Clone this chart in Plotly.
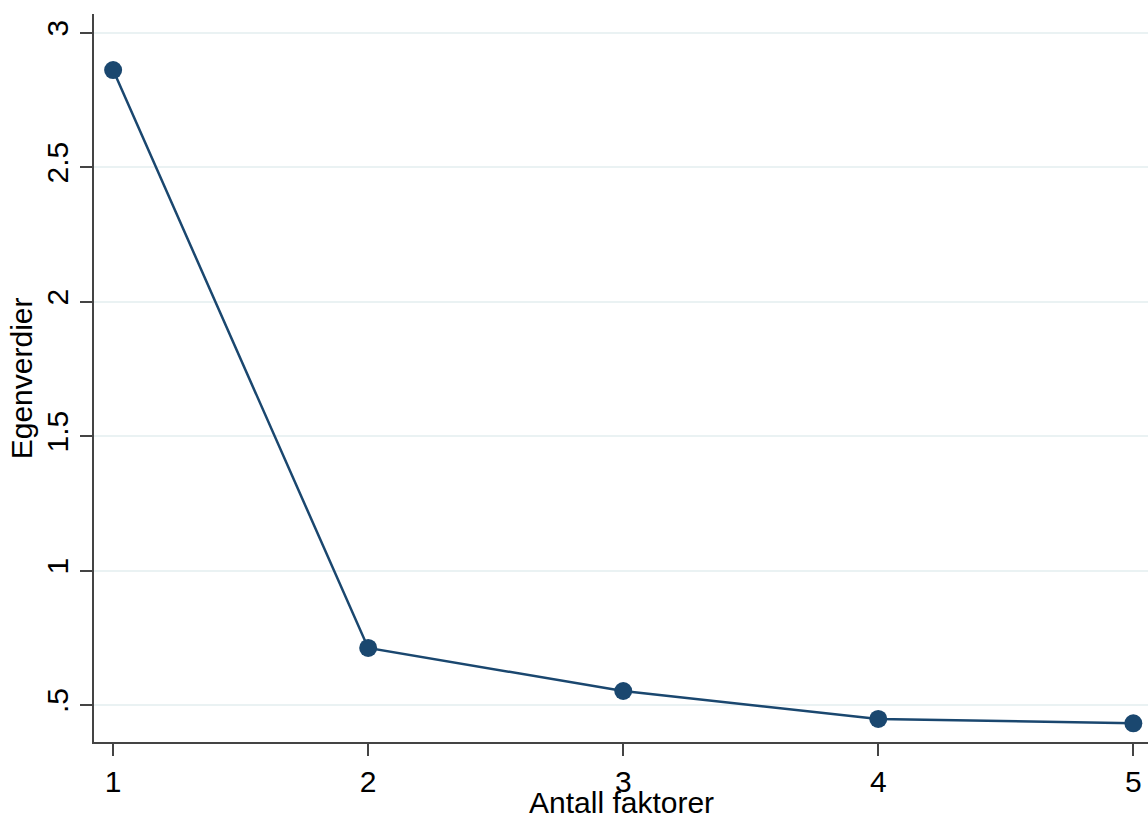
import plotly.graph_objects as go

factors = [1, 2, 3, 4, 5]
eigenvalues = [2.861, 0.712, 0.552, 0.448, 0.432]
x_ticks = [1, 2, 3, 4, 5]
y_ticks = [0.5, 1, 1.5, 2, 2.5, 3]
y_tick_labels = [".5", "1", "1.5", "2", "2.5", "3"]

navy = "#1a476f"
font_family = "Arial, Liberation Sans, sans-serif"
fs = 30

fig = go.Figure()
fig.add_trace(go.Scatter(
    x=factors, y=eigenvalues, mode="lines+markers",
    line=dict(color=navy, width=2.5),
    marker=dict(color=navy, size=18),
    cliponaxis=False, showlegend=False,
))

fig.update_layout(
    width=1148, height=821,
    margin=dict(l=94, r=0, t=14, b=79),
    paper_bgcolor="white", plot_bgcolor="white",
    font=dict(family=font_family, size=fs, color="black"),
    xaxis=dict(
        range=[0.925, 5.0575], tickvals=x_ticks,
        ticktext=[str(v) for v in x_ticks],
        showgrid=False, zeroline=False,
        showline=True, linecolor="#444", linewidth=2,
        ticks="outside", ticklen=12, tickcolor="#444", tickwidth=2,
        tickfont=dict(size=fs), ticklabelstandoff=0,
    ),
    yaxis=dict(
        range=[0.3624, 3.0695], tickvals=y_ticks, ticktext=y_tick_labels,
        showgrid=True, gridcolor="#eaf2f3", gridwidth=2, zeroline=False,
        showline=True, linecolor="#444", linewidth=2,
        ticks="outside", ticklen=12, tickcolor="#444", tickwidth=2,
        tickangle=-90, tickfont=dict(size=fs), ticklabelstandoff=0,
    ),
    annotations=[
        dict(text="Antall faktorer", xref="paper", yref="paper",
             x=0.5, y=-79 / 728, xanchor="center", yanchor="bottom",
             showarrow=False, font=dict(size=fs)),
        dict(text="Egenverdier", xref="paper", yref="paper",
             x=-0.069, y=0.5, xanchor="center", yanchor="middle",
             textangle=-90, showarrow=False, font=dict(size=fs)),
    ],
)

fig.write_html("out.html")
